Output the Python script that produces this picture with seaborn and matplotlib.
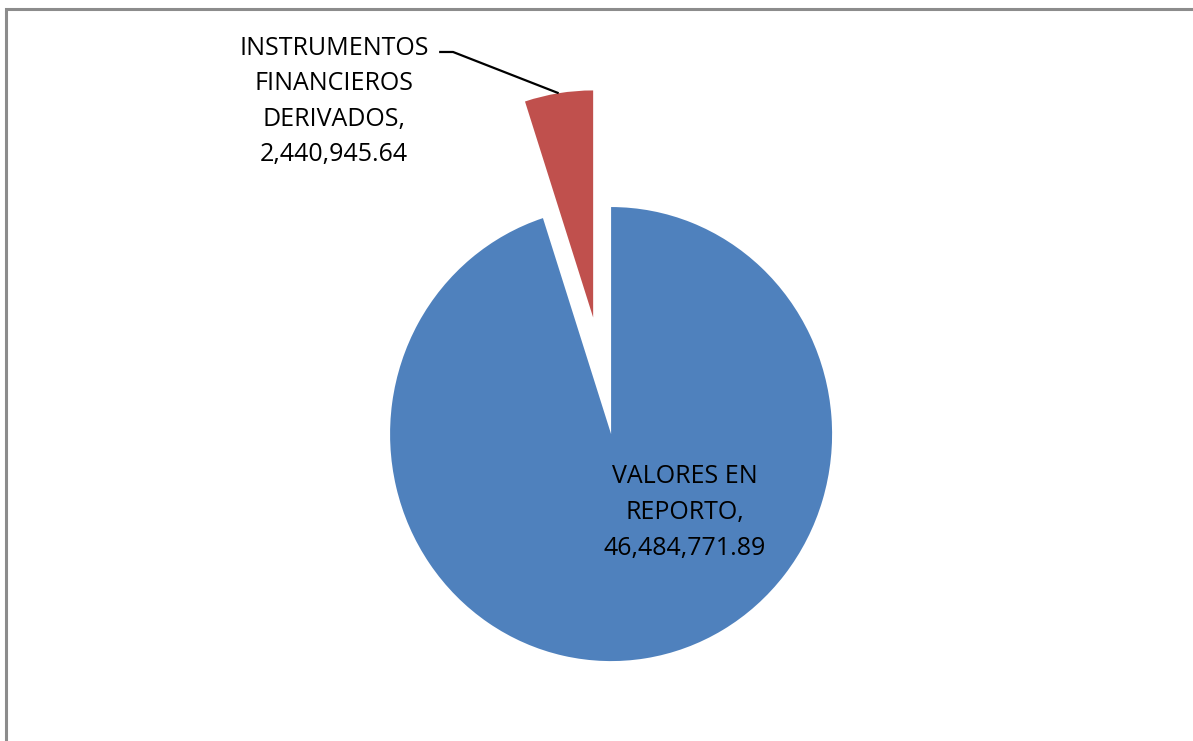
import numpy as np
import seaborn as sns
import matplotlib.pyplot as plt
from matplotlib.patches import Rectangle

categories = ["VALORES EN\nREPORTO", "INSTRUMENTOS\nFINANCIEROS\nDERIVADOS"]
values = [46484771.89, 2440945.64]
colors = ["#4F81BD", "#C0504D"]
explode = [0, 0.52]

sns.set_theme(style="white")
plt.rcParams['font.family'] = ['Open Sans', 'DejaVu Sans']

fig = plt.figure(figsize=(11.93, 7.41), dpi=100)
ax = fig.add_axes([0, 0, 1, 1])

wedges, _ = ax.pie(values, colors=colors, explode=explode, startangle=90,
                   counterclock=False, radius=1.0,
                   wedgeprops=dict(linewidth=0))

# slightly stretched vertically like the original
ax.set_aspect('auto')
ax.set_xlim(-2.765, 2.633)
ax.set_ylim(-1.352, 1.912)
ax.axis('off')

labels = [f"{c},\n{v:,.2f}" for c, v in zip(categories, values)]

# label inside the big slice
ax.text(0.335, -0.345, labels[0], ha='center', va='center', fontsize=18,
        linespacing=1.56, color='black')

# label for the small exploded slice with a leader line
ax.text(-1.253, 1.465, labels[1], ha='center', va='center', fontsize=18,
        linespacing=1.56, color='black')
w = wedges[1]
tm = np.deg2rad((w.theta1 + w.theta2) / 2)
end = (w.center[0] + w.r * np.cos(tm), w.center[1] + w.r * np.sin(tm))
ax.plot([-0.778, -0.715, end[0]], [1.683, 1.683, end[1]], color='black', lw=1.6,
        solid_capstyle='butt')

# chart area border (only top and left visible in the crop)
fig.patches.append(Rectangle((6.5 / 1193, -0.1), 1.2, (741 - 9.5) / 741 + 0.1,
                             transform=fig.transFigure, fill=False,
                             edgecolor='#8c8c8c', lw=2.2))

fig.savefig('out.png', dpi=100)
